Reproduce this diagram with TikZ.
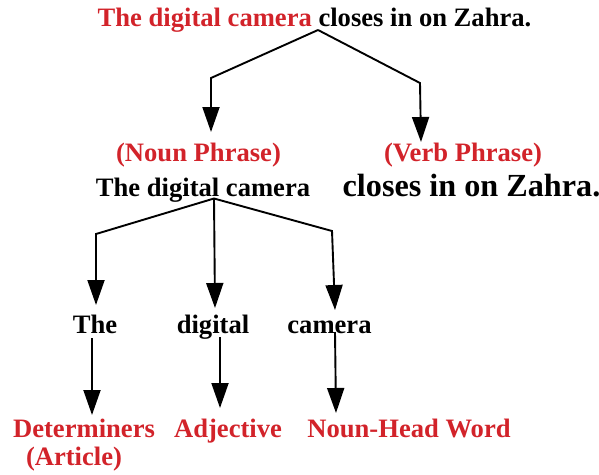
\documentclass[tikz,border=0pt]{standalone}
\usepackage{fontspec}
\setmainfont{Liberation Serif}
\usetikzlibrary{arrows.meta}
\definecolor{lblred}{RGB}{210,35,42}
\tikzset{
  word/.style={inner sep=0pt, anchor=base, font=\fontsize{26.6}{30}\selectfont\bfseries},
  bigword/.style={inner sep=0pt, anchor=base, font=\fontsize{32.2}{36}\selectfont\bfseries},
  redword/.style={word, text=lblred},
  conn/.style={line width=1.9pt, line join=miter},
  arr/.style={conn, -{Triangle[length=25pt,width=17pt]}}
}
\begin{document}
\begin{tikzpicture}[x=1pt,y=-1pt]
\useasboundingbox (0,0) rectangle (599,474);
% nodes
\node[word] (top) at (314.5,26.5) {\textcolor{lblred}{The digital camera} closes in on Zahra.};
\node[redword] (nplab) at (198.5,161) {(Noun Phrase)};
\node[redword] (vplab) at (463,161) {(Verb Phrase)};
\node[word] (np) at (203,196.5) {The digital camera};
\node[bigword] (vp) at (471.5,196.5) {closes in on Zahra.};
\node[word] (the) at (95,333) {The};
\node[word] (dig) at (213,333) {digital};
\node[word] (cam) at (329.5,333) {camera};
\node[redword] (det) at (84,437) {Determiners};
\node[redword] (art) at (74,465) {(Article)};
\node[redword] (adj) at (228,437) {Adjective};
\node[redword] (head) at (409,437) {Noun-Head Word};
% connector points
\coordinate (apex) at (318,30);
\coordinate (l1) at (211,78);
\coordinate (l1t) at (211,132);
\coordinate (r1) at (420,83);
\coordinate (r1t) at (421,142);
\coordinate (npx) at (214,198.5);
\coordinate (l2) at (96,234);
\coordinate (l2t) at (96,305);
\coordinate (m2t) at (215,308);
\coordinate (r2) at (332,231);
\coordinate (r2t) at (335,310);
\coordinate (a3) at (92,338);
\coordinate (a3t) at (92,415);
\coordinate (b3) at (220,337);
\coordinate (b3t) at (220,408);
\coordinate (c3) at (335,332);
\coordinate (c3t) at (336,413);
% connectors
\draw[arr] (apex) -- (l1) -- (l1t);
\draw[arr] (apex) -- (r1) -- (r1t);
\draw[arr] (npx) -- (l2) -- (l2t);
\draw[arr] (npx) -- (m2t);
\draw[arr] (npx) -- (r2) -- (r2t);
\draw[arr] (a3) -- (a3t);
\draw[arr] (b3) -- (b3t);
\draw[arr] (c3) -- (c3t);
\end{tikzpicture}
\end{document}
